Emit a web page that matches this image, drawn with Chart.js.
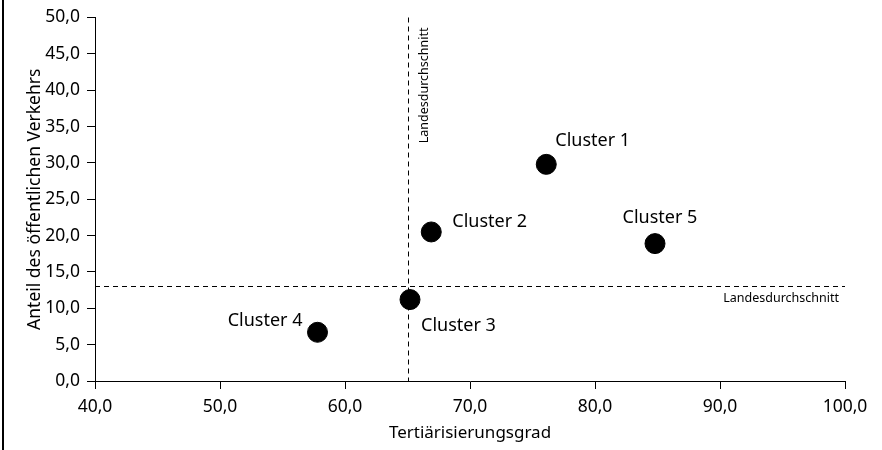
<!DOCTYPE html>
<html lang="de">
<head>
  <meta charset="UTF-8" />
  <title>Cluster: Tertiärisierungsgrad und öffentlicher Verkehr</title>
  <script src="https://cdn.jsdelivr.net/npm/chart.js"></script>
  <style>
    html, body {
      margin: 0;
      padding: 0;
      background: #fff;
    }
    .wrap {
      position: relative;
      width: 882px;
      height: 450px;
    }
  </style>
</head>
<body>
  <div class="wrap">
    <canvas id="clusterChart"></canvas>
  </div>

  <script>
    // Daten
    const clusterNamen = ['Cluster 1', 'Cluster 2', 'Cluster 3', 'Cluster 4', 'Cluster 5'];
    const tertiaer = [76.1, 66.9, 65.2, 57.8, 84.8];
    const oevAnteil = [29.8, 20.5, 11.2, 6.7, 18.9];
    const landesSchnittX = 65.0;
    const landesSchnittY = 13.0;
    const referenzText = 'Landesdurchschnitt';

    // Beschriftung: Ausrichtung und Versatz zum Punkt (px)
    const labelLage = [
      { align: 'left', dx: 9, dy: -23 },
      { align: 'left', dx: 21, dy: -10 },
      { align: 'left', dx: 11, dy: 26 },
      { align: 'right', dx: -15, dy: -11 },
      { align: 'center', dx: 5, dy: -26 }
    ];

    const schrift = '"Noto Sans", "DejaVu Sans", sans-serif';
    const fmt = v => v.toFixed(1).replace('.', ',');

    const punkte = tertiaer.map((x, i) => ({ x: x, y: oevAnteil[i] }));

    const extrasPlugin = {
      id: 'extras',
      afterDatasetsDraw(chart) {
        const ctx = chart.ctx;
        const xs = chart.scales.x;
        const ys = chart.scales.y;
        const area = chart.chartArea;
        ctx.save();

        // Landesdurchschnitt-Linien
        ctx.strokeStyle = '#000';
        ctx.lineWidth = 1;
        ctx.setLineDash([5, 4]);
        const lx = Math.round(xs.getPixelForValue(landesSchnittX)) + 0.5;
        const ly = Math.round(ys.getPixelForValue(landesSchnittY)) + 0.5;
        ctx.beginPath();
        ctx.moveTo(lx, area.top);
        ctx.lineTo(lx, area.bottom);
        ctx.moveTo(area.left, ly);
        ctx.lineTo(area.right, ly);
        ctx.stroke();
        ctx.setLineDash([]);

        ctx.fillStyle = '#000';
        ctx.font = '12.5px ' + schrift;
        ctx.textBaseline = 'middle';
        // horizontal
        ctx.textAlign = 'right';
        ctx.fillText(referenzText, area.right - 6, ly + 12);
        // vertikal
        ctx.save();
        ctx.translate(lx + 16, area.top + 10);
        ctx.rotate(-Math.PI / 2);
        ctx.textAlign = 'right';
        ctx.fillText(referenzText, 0, 0);
        ctx.restore();

        // Cluster-Beschriftungen
        ctx.font = '18px ' + schrift;
        const meta = chart.getDatasetMeta(0);
        meta.data.forEach((pt, i) => {
          const l = labelLage[i];
          ctx.textAlign = l.align;
          ctx.fillText(clusterNamen[i], pt.x + l.dx, pt.y + l.dy);
        });

        ctx.restore();
      },
      afterDraw(chart) {
        // linker Rahmen
        const ctx = chart.ctx;
        ctx.save();
        ctx.fillStyle = '#000';
        ctx.fillRect(2, 0, 2, chart.height);
        ctx.restore();
      }
    };

    const ctx = document.getElementById('clusterChart').getContext('2d');
    new Chart(ctx, {
      type: 'scatter',
      data: {
        datasets: [{
          data: punkte,
          backgroundColor: '#000',
          borderColor: '#000',
          pointRadius: 10,
          pointHoverRadius: 10
        }]
      },
      options: {
        responsive: true,
        maintainAspectRatio: false,
        animation: false,
        layout: { padding: { top: 15, right: 37, left: 0, bottom: 0 } },
        plugins: {
          legend: { display: false },
          tooltip: { enabled: false }
        },
        scales: {
          x: {
            type: 'linear',
            min: 40,
            max: 100,
            grid: { display: true, drawOnChartArea: false, drawTicks: true, tickLength: 8, color: '#000' },
            border: { color: '#000', width: 1 },
            ticks: {
              stepSize: 10,
              color: '#000',
              padding: 8,
              font: { family: schrift, size: 17.5 },
              callback: v => fmt(v)
            },
            title: {
              display: true,
              text: 'Tertiärisierungsgrad',
              color: '#000',
              font: { family: schrift, size: 17 },
              padding: { top: 0, bottom: 7 }
            },
            afterFit(scale) { scale.height = 69; }
          },
          y: {
            type: 'linear',
            min: 0,
            max: 50,
            grid: { display: true, drawOnChartArea: false, drawTicks: true, tickLength: 8, color: '#000' },
            border: { color: '#000', width: 1 },
            ticks: {
              stepSize: 5,
              color: '#000',
              padding: 7,
              font: { family: schrift, size: 17.5 },
              callback: v => fmt(v)
            },
            title: {
              display: true,
              text: 'Anteil des öffentlichen Verkehrs',
              color: '#000',
              font: { family: schrift, size: 17.5 },
              padding: { top: 25, bottom: 0 }
            },
            afterFit(scale) { scale.width = 95; }
          }
        }
      },
      plugins: [extrasPlugin]
    });
  </script>
</body>
</html>
